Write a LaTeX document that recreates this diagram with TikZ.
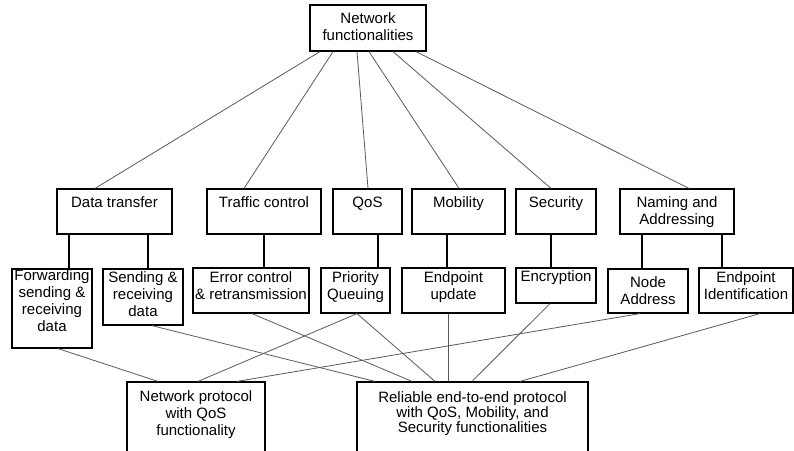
\documentclass[tikz,border=0pt]{standalone}
\usepackage{fontspec}
\setmainfont{Liberation Sans}
\begin{document}
\begin{tikzpicture}[x=1pt,y=-1pt,
  box/.style={draw=black, line width=1.2pt, inner sep=0pt, fill=white},
  lbl/.style={anchor=north, align=center, inner sep=0pt, font=\fontsize{15}{17}\selectfont},
  conn/.style={draw=black!65, line width=0.8pt},
  stem/.style={draw=black, line width=1.2pt}]
\useasboundingbox (0,0) rectangle (794,450);
\clip (0,0) rectangle (794,450);
% connectors first (under boxes)
% boxes
\node[box, minimum width=116pt, minimum height=46pt] (nf) at (368,28) {};
\node[box, minimum width=115pt, minimum height=45pt] (dt) at (114.5,211.5) {};
\node[box, minimum width=114pt, minimum height=45pt] (tc) at (264,211.5) {};
\node[box, minimum width=69pt, minimum height=45pt] (qos) at (367.5,211.5) {};
\node[box, minimum width=93pt, minimum height=45pt] (mob) at (458.5,211.5) {};
\node[box, minimum width=80pt, minimum height=45pt] (sec) at (556,211.5) {};
\node[box, minimum width=114pt, minimum height=45pt] (nam) at (677,211.5) {};
\node[box, minimum width=80pt, minimum height=79pt] (fwd) at (52,308.5) {};
\node[box, minimum width=80pt, minimum height=56pt] (snd) at (143,297) {};
\node[box, minimum width=116pt, minimum height=45pt] (err) at (251,290.5) {};
\node[box, minimum width=69pt, minimum height=45pt] (pq) at (355.5,290.5) {};
\node[box, minimum width=103pt, minimum height=45pt] (epu) at (453.5,290.5) {};
\node[box, minimum width=80pt, minimum height=35pt] (enc) at (556,285.5) {};
\node[box, minimum width=80pt, minimum height=44pt] (na) at (648,291) {};
\node[box, minimum width=94pt, minimum height=45pt] (eid) at (746,290.5) {};
\node[box, minimum width=138pt, minimum height=80pt] (np) at (196,422) {};
\node[box, minimum width=231pt, minimum height=80pt] (rel) at (472.5,422) {};
% labels
\node[lbl] (nfT) at ([yshift=-8.5pt]nf.north) {Network\\functionalities};
\node[lbl] (dtT) at ([yshift=-8.5pt]dt.north) {Data transfer};
\node[lbl] (tcT) at ([yshift=-8.5pt]tc.north) {Traffic control};
\node[lbl] (qosT) at ([yshift=-8.5pt]qos.north) {QoS};
\node[lbl] (mobT) at ([yshift=-8.5pt]mob.north) {Mobility};
\node[lbl] (secT) at ([yshift=-8.5pt]sec.north) {Security};
\node[lbl] (namT) at ([yshift=-8.5pt]nam.north) {Naming and\\Addressing};
\node[lbl] (fwdT) at ([yshift=-1.5pt]fwd.north) {Forwarding\\sending \&\\receiving\\data};
\node[lbl] (sndT) at ([yshift=-3.5pt]snd.north) {Sending \&\\receiving\\data};
\node[lbl] (errT) at ([yshift=-4.5pt]err.north) {Error control\\\& retransmission};
\node[lbl] (pqT) at ([yshift=-4.5pt]pq.north) {Priority\\Queuing};
\node[lbl] (epuT) at ([yshift=-4.5pt]epu.north) {Endpoint\\update};
\node[lbl] (encT) at ([yshift=-3.5pt]enc.north) {Encryption};
\node[lbl] (naT) at ([yshift=-8.5pt]na.north) {Node\\Address};
\node[lbl] (eidT) at ([yshift=-4pt]eid.north) {Endpoint\\Identification};
\node[lbl] (npT) at ([yshift=-9.5pt]np.north) {Network protocol\\with QoS\\functionality};
\node[lbl, font=\fontsize{15}{15}\selectfont] (relT) at ([yshift=-10.5pt]rel.north) {Reliable end-to-end protocol\\with QoS, Mobility, and\\Security functionalities};
% top fan-out
\draw[conn] ([xshift=-48pt]nf.south) -- ([xshift=-19.5pt]dt.north);
\draw[conn] ([xshift=-35pt]nf.south) -- ([xshift=-20pt]tc.north);
\draw[conn] ([xshift=-11pt]nf.south) -- ([xshift=0.5pt]qos.north);
\draw[conn] ([xshift=1pt]nf.south) -- ([xshift=0.5pt]mob.north);
\draw[conn] ([xshift=25pt]nf.south) -- ([xshift=-5pt]sec.north);
\draw[conn] ([xshift=48pt]nf.south) -- ([xshift=12pt]nam.north);
% stems
\draw[stem] ([xshift=-45.5pt]dt.south) -- ([xshift=17pt]fwd.north);
\draw[stem] ([xshift=33.5pt]dt.south) -- ([xshift=5pt]snd.north);
\draw[stem] (tc.south) -- ([xshift=13pt]err.north);
\draw[stem] ([xshift=10.5pt]qos.south) -- ([xshift=22.5pt]pq.north);
\draw[stem] ([xshift=-11.5pt]mob.south) -- ([xshift=-6.5pt]epu.north);
\draw[stem] ([xshift=-5pt]sec.south) -- ([xshift=-5pt]enc.north);
\draw[stem] ([xshift=-35pt]nam.south) -- ([xshift=-6pt]na.north);
\draw[stem] ([xshift=45pt]nam.south) -- ([xshift=-24pt]eid.north);
% bottom fan-in
\draw[conn] ([xshift=6pt]fwd.south) -- ([xshift=-38pt]np.north);
\draw[conn] ([xshift=1.5pt]pq.south) -- ([xshift=2pt]np.north);
\draw[conn] ([xshift=-8pt]na.south) -- ([xshift=41pt]np.north);
\draw[conn] ([xshift=9pt]snd.south) -- ([xshift=-97.5pt]rel.north);
\draw[conn] ([xshift=1pt]err.south) -- ([xshift=-60.5pt]rel.north);
\draw[conn] ([xshift=1.5pt]pq.south) -- ([xshift=-37.5pt]rel.north);
\draw[conn] ([xshift=-5.5pt]epu.south) -- ([xshift=-24.5pt]rel.north);
\draw[conn] ([xshift=-6pt]enc.south) -- ([xshift=-0.5pt]rel.north);
\draw[conn] ([xshift=14pt]eid.south) -- ([xshift=47.5pt]rel.north);
\end{tikzpicture}
\end{document}
